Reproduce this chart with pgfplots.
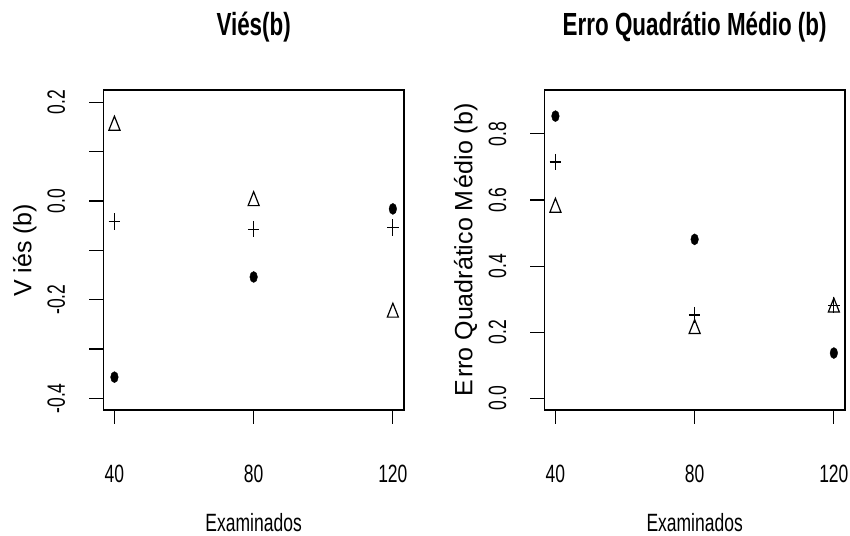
\documentclass[border=0pt]{standalone}
\usepackage{fontspec}
\setmainfont{Liberation Sans}[FakeStretch=0.7]
\newfontfamily\ylabfont{Liberation Sans}
\usepackage{pgfplots}
\pgfplotsset{compat=1.18}
\pgfplotsset{rstyle/.style={
  scale only axis, width=300.7bp, height=320bp, anchor=south west,
  axis line style={line width=1.1bp},
  tick align=outside, major tick length=14bp,
  tick style={black, line width=1.1bp},
  xtick pos=bottom, ytick pos=left,
  xmin=36.8, xmax=123.2, xtick={40,80,120}, xticklabels={40,80,120},
  xticklabel style={font=\fontsize{25bp}{30bp}\selectfont, anchor=base, inner sep=0pt},
  xticklabel shift=58.3bp,
  yticklabel style={font=\fontsize{25bp}{30bp}\selectfont, rotate=90, anchor=base, inner sep=0pt},
  yticklabel shift=24.3bp,
  title style={font=\fontsize{32bp}{38bp}\selectfont\bfseries, at={(axis description cs:0.5,1.151)}, anchor=base, inner sep=0pt},
  xlabel style={font=\fontsize{25bp}{30bp}\selectfont, at={(axis description cs:0.5,-0.380)}, anchor=base, inner sep=0pt},
  ylabel style={font=\ylabfont\fontsize{25bp}{30bp}\selectfont, at={(axis description cs:-0.239,0.5)}, anchor=base, inner sep=0pt},
  xlabel={Examinados},
  clip=false,
  tri/.style={only marks, mark=triangle, mark size=6.4bp, mark options={yscale=1.45, line width=1.2bp, fill=none, draw=black}},
  pls/.style={only marks, mark=+, mark size=5.7bp, mark options={yscale=1.45, line width=1.2bp, draw=black}},
  dot/.style={only marks, mark=*, mark size=3.8bp, mark options={yscale=1.45, fill=black, draw=black}},
}}
\begin{document}
\begin{tikzpicture}
\path[use as bounding box] (0,0) rectangle (850bp,536bp);
\begin{axis}[rstyle, at={(103.3bp,126bp)},
  ymin=-0.4236, ymax=0.225,
  ytick={-0.4,-0.3,-0.2,-0.1,0,0.1,0.2},
  yticklabels={-0.4,{},-0.2,{},0.0,{},0.2},
  title={Viés(b)},
  ylabel={V\kern6bp iés\kern7bp(b)}]
\addplot[tri] coordinates {(40,0.153) (80,0.000) (120,-0.226)};
\addplot[pls] coordinates {(40,-0.042) (80,-0.057) (120,-0.054)};
\addplot[dot] coordinates {(40,-0.357) (80,-0.154) (120,-0.016)};
\end{axis}
\begin{axis}[rstyle, at={(544.3bp,126bp)},
  ymin=-0.0354, ymax=0.933,
  ytick={0,0.2,0.4,0.6,0.8},
  yticklabels={0.0,0.2,0.4,0.6,0.8},
  title={Erro Quadrátio Médio (b)},
  ylabel={E\kern2bp rro Quadrático M\kern2bp édio (b)}]
\addplot[tri] coordinates {(40,0.577) (80,0.210) (120,0.275)};
\addplot[pls] coordinates {(40,0.715) (80,0.252) (120,0.282)};
\addplot[dot] coordinates {(40,0.854) (80,0.481) (120,0.137)};
\end{axis}
\end{tikzpicture}
\end{document}
